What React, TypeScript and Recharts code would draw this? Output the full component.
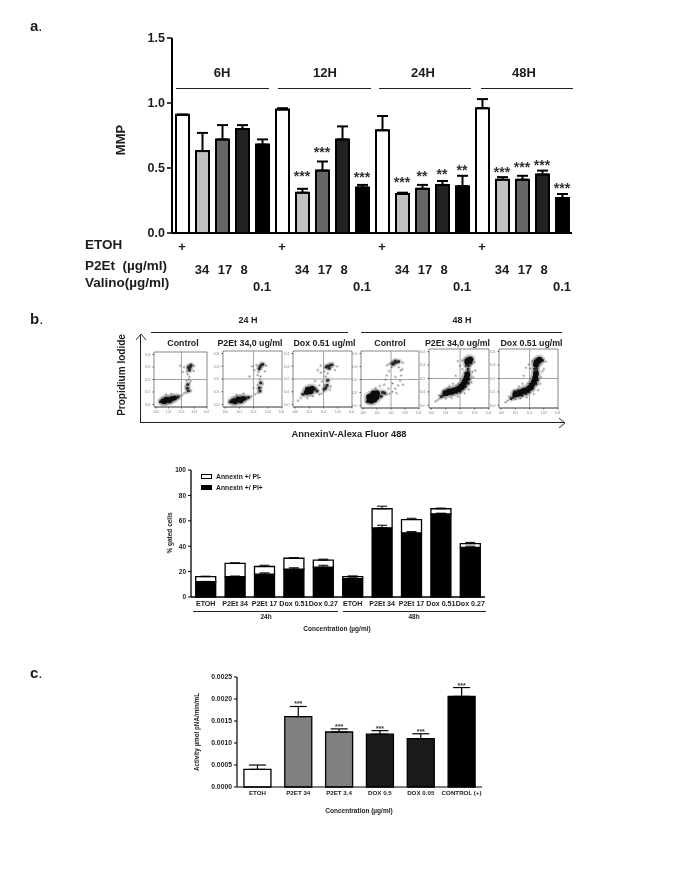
import {
  Bar,
  BarChart,
  CartesianGrid,
  Cell,
  ComposedChart,
  ErrorBar,
  LabelList,
  Line,
  ReferenceLine,
  Scatter,
  ScatterChart,
  XAxis,
  YAxis,
} from 'recharts';

const FONT = '"Liberation Sans", Arial, sans-serif';
const INK = '#1c1c1c';

// panel a
const mmpValues = [0.91, 0.63, 0.72, 0.8, 0.68, 0.95, 0.31, 0.48, 0.72, 0.35, 0.79, 0.3, 0.34, 0.37, 0.36, 0.96, 0.41, 0.41, 0.45, 0.27];
const mmpErrors = [0, 0.14, 0.11, 0.03, 0.04, 0.01, 0.03, 0.07, 0.1, 0.02, 0.11, 0.01, 0.03, 0.03, 0.08, 0.07, 0.02, 0.03, 0.03, 0.03];
const mmpStars = ['', '', '', '', '', '', '***', '***', '', '***', '', '***', '**', '**', '**', '', '***', '***', '***', '***'];
const mmpStarLevels = [null, null, null, null, null, null, 0.44, 0.62, null, 0.43, null, 0.39, 0.44, 0.45, 0.485, null, 0.47, 0.505, 0.52, 0.345];
const mmpFills = ['#ffffff', '#c0c0c0', '#666666', '#222222', '#000000'];
const etohRow = ['+', '', '', '', ''];
const p2etRow = ['', '34', '17', '8', ''];
const valinoRow = ['', '', '', '', '0.1'];
const mmpTicks = [0, 0.5, 1, 1.5];
const hourGroups = ['6H', '12H', '24H', '48H'];

// panel b, bars
const gatedNames = ['ETOH', 'P2Et 34', 'P2Et 17', 'Dox 0.51', 'Dox 0.27', 'ETOH', 'P2Et 34', 'P2Et 17', 'Dox 0.51', 'Dox 0.27'];
const gatedPlus = [12, 16, 18, 22, 23.5, 14.5, 54.5, 50.5, 65.5, 39];
const gatedPlusErr = [0.3, 0.5, 1, 1, 1.5, 0.5, 2, 1, 0.5, 1];
const gatedMinus = [4, 10.5, 6, 8.5, 5.5, 1.5, 15, 10.5, 4, 3];
const gatedMinusErr = [0.4, 0.4, 1, 0.5, 0.8, 0.6, 2, 1, 0.5, 1];

// panel c
const caspNames = ['ETOH', 'P2ET 34', 'P2ET 3.4', 'DOX 0.5', 'DOX 0.05', 'CONTROL (+)'];
const caspValues = [0.0004, 0.0016, 0.00125, 0.0012, 0.0011, 0.00206];
const caspErrors = [0.0001, 0.00023, 0.00007, 0.00008, 0.00011, 0.0002];
const caspStars = ['', '***', '***', '***', '***', '***'];
const caspFills = ['#ffffff', '#808080', '#808080', '#1a1a1a', '#1a1a1a', '#000000'];

// panel b, dot plots: [annexin decade, PI decade]
type Pt = [number, number];
const ctrl24Core: Pt[] = [[0.55, 0.28], [0.7, 0.3], [0.85, 0.34], [1, 0.38], [1.15, 0.42], [1.3, 0.48], [1.45, 0.52], [0.8, 0.42], [1.05, 0.3], [0.65, 0.22]];
const ctrl24Mid: Pt[] = [[0.35, 0.22], [1.65, 0.58], [1.75, 0.62], [2.6, 2.9], [2.7, 3.05], [2.55, 3], [2.75, 3.15], [2.62, 2.75], [2.45, 1.3], [2.5, 1.6], [2.55, 1.1]];
const ctrl24Sparse: Pt[] = [[2.2, 0.9], [2.35, 0.95], [2.45, 1.05], [2.6, 1.35], [2.35, 1.45], [2.65, 1.75], [2.4, 1.9], [2.55, 2], [2.62, 2.2], [2.5, 2.4], [2.42, 2.6], [2.1, 2.6], [2.2, 3], [1.9, 3.1], [3, 3.1], [2.95, 2.7], [1.9, 0.7], [2.05, 0.75], [2.75, 1.1], [2.72, 1.9], [1.2, 0.85], [0.8, 0.8]];

const p2e24Core: Pt[] = [[0.55, 0.28], [0.7, 0.3], [0.85, 0.34], [1, 0.38], [1.15, 0.42], [1.3, 0.46], [0.9, 0.42], [1.1, 0.3], [0.7, 0.22]];
const p2e24Mid: Pt[] = [[0.35, 0.2], [1.5, 0.5], [1.65, 0.56], [2.45, 2.95], [2.55, 3.1], [2.4, 2.8], [2.65, 3.15], [2.4, 1.3], [2.45, 1.05], [2.5, 1.7]];
const p2e24Sparse: Pt[] = [[2.1, 0.8], [2.3, 0.9], [2.4, 1.1], [2.55, 1.35], [2.3, 1.55], [2.45, 2], [2.5, 2.2], [2.3, 2.3], [2.35, 2.55], [2.05, 2.7], [1.9, 3], [2.2, 3.1], [2.8, 2.6], [2.9, 3.05], [1.85, 0.65], [2, 1.3], [1.3, 0.85], [0.8, 0.75], [2.65, 1.6], [1.7, 2.2]];

const dox24Core: Pt[] = [[0.8, 0.95], [0.9, 1.02], [1, 1.1], [1.1, 1.18], [1.2, 1.25], [0.88, 1.18], [1.1, 1.02]];
const dox24Mid: Pt[] = [[2.2, 2.95], [2.3, 3], [2.45, 3.08], [2.6, 3.12], [2.4, 2.85], [1.4, 1.2], [0.55, 0.8], [1.55, 1.05], [2.15, 1.3], [2.25, 1.5], [2.05, 1.2], [2.3, 1.9]];
const dox24Sparse: Pt[] = [[0.2, 0.3], [0.4, 0.5], [1.7, 0.8], [1.85, 0.85], [2, 1], [2.05, 1.55], [1.9, 1.8], [2.2, 1.85], [2.15, 2.2], [2.3, 2.45], [2.05, 2.6], [1.8, 2.5], [1.6, 2.7], [1.8, 3.05], [2.1, 2.9], [2.95, 3], [2.8, 2.7], [2.5, 1.4], [2.45, 1.15], [1.25, 0.65], [0.85, 0.5], [1.7, 1.5], [1.4, 1.85]];

const ctrl48Core: Pt[] = [[0.5, 0.45], [0.62, 0.55], [0.75, 0.68], [0.88, 0.82], [0.98, 0.92], [0.58, 0.38], [0.8, 0.48], [0.45, 0.66], [0.75, 0.9], [0.95, 0.66]];
const ctrl48Mid: Pt[] = [[2.1, 3.25], [2.25, 3.3], [2.4, 3.35], [2.55, 3.38], [2.3, 3.42], [2.15, 3.18], [1.4, 1], [1.55, 0.95], [0.3, 0.3], [1.3, 0.7]];
const ctrl48Sparse: Pt[] = [[1.7, 0.85], [1.9, 0.9], [2.1, 1.05], [2.3, 1.3], [2.5, 1.55], [2.65, 1.9], [2.72, 2.3], [2.7, 2.7], [2.55, 2.95], [2.05, 2.95], [1.85, 2.65], [1.7, 2.3], [1.6, 2], [1.5, 1.6], [1.85, 3.2], [2.85, 3.3], [2.8, 2.8], [2.85, 1.6], [1.8, 1.3], [2.1, 1.7], [2.3, 2.2], [1.2, 1.5], [0.9, 1.35], [2.4, 0.95], [1.7, 3.1]];

const p2e48Core: Pt[] = [[1, 0.9], [1.15, 0.98], [1.3, 1.02], [1.45, 1.05], [1.6, 1.1], [1.8, 1.18], [1.95, 1.28], [2.1, 1.42], [2.25, 1.6], [2.35, 1.82], [2.45, 2.05], [2.5, 2.3], [2.5, 3.25], [2.6, 3.35], [2.7, 3.42]];
const p2e48Mid: Pt[] = [[0.7, 0.65], [0.85, 0.75], [0.9, 1], [1.2, 1.15], [1.45, 0.88], [1.75, 0.98], [2, 1.05], [2.2, 1.25], [2.35, 1.4], [2.55, 1.65], [2.6, 1.95], [2.55, 2.5], [2.55, 2.7], [2.6, 2.95], [2.45, 3], [2.75, 3.15], [2.42, 3.4], [2.8, 3.4]];
const p2e48Sparse: Pt[] = [[0.3, 0.3], [0.45, 0.4], [0.6, 0.5], [0.55, 0.75], [1, 0.5], [1.4, 0.55], [1.85, 0.65], [2.3, 0.9], [2.6, 1.2], [2.8, 1.7], [2.9, 2.1], [2.3, 2.45], [2.15, 2.7], [2, 2.95], [1.85, 3.3], [2.15, 3.35], [1.7, 2.2], [1.5, 1.6], [1.25, 1.45], [3, 3.2], [3.05, 2.6], [2.05, 1.9], [1.9, 1.6], [2.35, 2.9], [2.85, 2.5]];

const dox48Core: Pt[] = [[1, 0.8], [1.15, 0.85], [1.3, 0.92], [1.45, 1], [1.6, 1.08], [1.8, 1.15], [2, 1.3], [2.15, 1.5], [2.3, 1.75], [2.4, 2.05], [2.45, 2.35], [2.5, 3.2], [2.6, 3.3], [2.7, 3.4], [2.45, 3.05]];
const dox48Mid: Pt[] = [[0.7, 0.5], [0.85, 0.6], [0.95, 1], [1.2, 1.08], [1.45, 0.75], [1.75, 0.88], [1.95, 1.02], [2.2, 1.25], [2.45, 1.6], [2.55, 1.9], [2.5, 2.55], [2.5, 2.75], [2.35, 2.7], [2.5, 2.95], [2.9, 3.35], [2.4, 3.3]];
const dox48Sparse: Pt[] = [[0.3, 0.22], [0.45, 0.35], [0.55, 0.65], [1, 0.45], [1.35, 0.5], [1.8, 0.6], [2.3, 0.85], [2.6, 1.15], [2.75, 1.6], [2.8, 2.1], [2.25, 2.5], [2.05, 2.75], [1.95, 3.05], [2.2, 3.3], [1.75, 2.8], [1.6, 2.2], [1.5, 1.6], [1.25, 1.4], [3.15, 3.25], [3, 2.7], [2.05, 2], [1.9, 1.65], [2.3, 3], [2.9, 2.55]];

const dotPlots = [
  { title: 'Control', titleX: 183, left: 154, right: 207, top: 352, bottom: 407, coreR: 2.5, core: ctrl24Core, mid: ctrl24Mid, sparse: ctrl24Sparse },
  { title: 'P2Et 34,0 ug/ml', titleX: 250, left: 223, right: 282, top: 351, bottom: 407, coreR: 2.5, core: p2e24Core, mid: p2e24Mid, sparse: p2e24Sparse },
  { title: 'Dox 0.51 ug/ml', titleX: 324.5, left: 293, right: 352, top: 351, bottom: 407, coreR: 2.7, core: dox24Core, mid: dox24Mid, sparse: dox24Sparse },
  { title: 'Control', titleX: 390, left: 361, right: 419, top: 351, bottom: 408, coreR: 3.2, core: ctrl48Core, mid: ctrl48Mid, sparse: ctrl48Sparse },
  { title: 'P2Et 34,0 ug/ml', titleX: 457.5, left: 429, right: 489, top: 349, bottom: 408, coreR: 3, core: p2e48Core, mid: p2e48Mid, sparse: p2e48Sparse },
  { title: 'Dox 0.51 ug/ml', titleX: 531.5, left: 499, right: 558, top: 349, bottom: 408, coreR: 3, core: dox48Core, mid: dox48Mid, sparse: dox48Sparse },
];
const decadeTicks = [0, 1, 2, 3, 4];

const mmpData = mmpValues.map((v, i) => ({
  name: String(i),
  value: v,
  err: [0, mmpErrors[i]],
  starLevel: mmpStarLevels[i],
  stars: mmpStars[i],
}));
const gatedData = gatedNames.map((n, i) => ({
  name: n,
  plus: gatedPlus[i],
  plusErr: [0, gatedPlusErr[i]],
  minus: gatedMinus[i],
  minusErr: [0, gatedMinusErr[i]],
}));
const caspData = caspNames.map((n, i) => ({
  name: n,
  value: caspValues[i],
  err: [0, caspErrors[i]],
  top: caspValues[i] + caspErrors[i],
  stars: caspStars[i],
}));

function Note({ x, y, size = 12, rotate, anchor = 'middle', weight = 700, children }: any) {
  const shift = anchor === 'middle' ? '-50%' : '0';
  return (
    <div
      style={{
        position: 'absolute',
        left: x,
        top: y,
        transform: `translate(${shift}, -50%)${rotate ? ` rotate(${rotate}deg)` : ''}`,
        fontFamily: FONT,
        fontSize: size,
        fontWeight: weight,
        color: INK,
        whiteSpace: 'nowrap',
        lineHeight: 1,
      }}
    >
      {children}
    </div>
  );
}

function Rule({ x1, x2, y, thick = 1 }: any) {
  return <div style={{ position: 'absolute', left: x1, width: x2 - x1, top: y, height: thick, background: '#222' }} />;
}

function MmpTick({ x, y, payload }: any) {
  const slot = Number(payload.value) % 5;
  const style = { fontFamily: FONT, fontSize: 13, fontWeight: 700, fill: INK };
  return (
    <g>
      <text x={x} y={y + 10} textAnchor="middle" {...style}>{etohRow[slot]}</text>
      <text x={x + (slot === 2 ? 3 : slot === 3 ? 2 : 0)} y={y + 33} textAnchor="middle" {...style}>{p2etRow[slot]}</text>
      <text x={x} y={y + 50} textAnchor="middle" {...style}>{valinoRow[slot]}</text>
    </g>
  );
}

function MmpChart() {
  return (
    <div style={{ position: 'absolute', left: 100, top: 20 }}>
      <ComposedChart width={472} height={280} data={mmpData} margin={{ top: 18, right: 0, bottom: 0, left: 0 }} barCategoryGap={0}>
        <XAxis dataKey="name" height={67} interval={0} tick={<MmpTick />} tickLine={false} axisLine={{ stroke: '#000', strokeWidth: 2 }} />
        <YAxis
          width={72}
          domain={[0, 1.5]}
          ticks={mmpTicks}
          tickFormatter={(v) => v.toFixed(1)}
          tick={{ fontFamily: FONT, fontSize: 12.5, fontWeight: 700, fill: INK }}
          tickLine={{ stroke: '#000', strokeWidth: 1.5 }}
          tickSize={5}
          axisLine={{ stroke: '#000', strokeWidth: 2 }}
        />
        <Bar dataKey="value" barSize={13} stroke="#000" strokeWidth={2} isAnimationActive={false}>
          {mmpData.map((_, i) => (
            <Cell key={i} fill={mmpFills[i % 5]} />
          ))}
          <ErrorBar dataKey="err" direction="y" width={5.5} stroke="#000" strokeWidth={2} isAnimationActive={false} />
        </Bar>
        <Line dataKey="starLevel" stroke="none" dot={false} legendType="none" connectNulls={false} isAnimationActive={false}>
          <LabelList dataKey="stars" position="center" style={{ fontFamily: FONT, fontSize: 14, fontWeight: 700, fill: '#333' }} />
        </Line>
      </ComposedChart>
    </div>
  );
}

function DotPlot({ plot }: any) {
  const w = plot.right - plot.left;
  const h = plot.bottom - plot.top;
  const toPts = (list: Pt[]) => list.map(([x, y]) => ({ x, y }));
  const dot = (r: number, fill: string, opacity = 1) => (p: any) => <circle cx={p.cx} cy={p.cy} r={r} fill={fill} opacity={opacity} />;
  const tick = { fontSize: 3.5, fontFamily: FONT, fill: '#8a8a8a' };
  return (
    <div style={{ position: 'absolute', left: plot.left - 10, top: plot.top - 2, filter: 'blur(0.3px)' }}>
      <ScatterChart width={w + 12} height={h + 12} margin={{ top: 2, right: 2, bottom: 0, left: 0 }}>
        <CartesianGrid stroke="#555" strokeWidth={0.7} horizontalValues={[-0.2, 4.2]} verticalValues={[-0.15, 4]} />
        <XAxis type="number" dataKey="x" domain={[-0.15, 4]} ticks={decadeTicks} height={10} tickSize={1.5} tick={tick} tickFormatter={(v) => `10${v}`} tickLine={{ stroke: '#555' }} axisLine={{ stroke: '#555', strokeWidth: 0.7 }} />
        <YAxis type="number" dataKey="y" domain={[-0.2, 4.2]} ticks={decadeTicks} width={10} tickSize={1.5} tick={tick} tickFormatter={(v) => `10${v}`} tickLine={{ stroke: '#555' }} axisLine={{ stroke: '#555', strokeWidth: 0.7 }} />
        <ReferenceLine x={2} stroke="#999" strokeWidth={0.9} />
        <ReferenceLine y={2} stroke="#999" strokeWidth={0.9} />
        <Scatter data={toPts(plot.core)} shape={dot(plot.coreR + 2.5, '#777', 0.3)} isAnimationActive={false} />
        <Scatter data={toPts(plot.mid)} shape={dot(3.2, '#777', 0.3)} isAnimationActive={false} />
        <Scatter data={toPts(plot.sparse)} shape={dot(1.6, '#999', 0.35)} isAnimationActive={false} />
        <Scatter data={toPts(plot.sparse)} shape={dot(0.5, '#444')} isAnimationActive={false} />
        <Scatter data={toPts(plot.mid)} shape={dot(1.6, '#2a2a2a')} isAnimationActive={false} />
        <Scatter data={toPts(plot.core)} shape={dot(plot.coreR, '#0c0c0c')} isAnimationActive={false} />
      </ScatterChart>
    </div>
  );
}

function GatedLegend() {
  const rows = [
    { label: 'Annexin +/ PI-', fill: '#fff' },
    { label: 'Annexin +/ PI+', fill: '#000' },
  ];
  return (
    <div style={{ position: 'absolute', left: 201, top: 471 }}>
      {rows.map((r) => (
        <div key={r.label} style={{ display: 'flex', alignItems: 'center', height: 11, fontFamily: FONT, fontSize: 6.8, fontWeight: 700, color: INK }}>
          <span style={{ width: 9, height: 3, border: '1.5px solid #000', background: r.fill, marginRight: 4 }} />
          {r.label}
        </div>
      ))}
    </div>
  );
}

function GatedChart() {
  return (
    <div style={{ position: 'absolute', left: 150, top: 462 }}>
      <BarChart width={335} height={147} data={gatedData} margin={{ top: 8, right: 0, bottom: 0, left: 0 }} barCategoryGap="16%">
        <XAxis dataKey="name" height={12} interval={0} tick={{ fontFamily: FONT, fontSize: 7.1, fontWeight: 700, fill: INK }} tickSize={2} tickLine={false} axisLine={{ stroke: '#000', strokeWidth: 1.3 }} />
        <YAxis
          width={41}
          domain={[0, 100]}
          ticks={[0, 20, 40, 60, 80, 100]}
          tick={{ fontFamily: FONT, fontSize: 6.5, fontWeight: 700, fill: INK }}
          tickSize={3}
          tickLine={{ stroke: '#000' }}
          axisLine={{ stroke: '#000', strokeWidth: 1.3 }}
        />
        <Bar dataKey="plus" stackId="a" fill="#000" stroke="#000" strokeWidth={1.3} isAnimationActive={false}>
          <ErrorBar dataKey="plusErr" direction="y" width={5} stroke="#000" strokeWidth={1} isAnimationActive={false} />
        </Bar>
        <Bar dataKey="minus" stackId="a" fill="#fff" stroke="#000" strokeWidth={1.3} isAnimationActive={false}>
          <ErrorBar dataKey="minusErr" direction="y" width={5} stroke="#000" strokeWidth={1} isAnimationActive={false} />
        </Bar>
      </BarChart>
    </div>
  );
}

function CaspChart() {
  return (
    <div style={{ position: 'absolute', left: 192, top: 670 }}>
      <ComposedChart
        width={300}
        height={130}
        data={caspData}
        margin={{ top: 7, right: 10, bottom: 0, left: 0 }}
        barCategoryGap="17%"
        style={{ overflow: 'visible' }}
      >
        <XAxis dataKey="name" height={13} interval={0} tick={{ fontFamily: FONT, fontSize: 6.2, fontWeight: 700, fill: INK }} tickSize={2} tickLine={false} axisLine={{ stroke: '#000', strokeWidth: 1.2 }} />
        <YAxis
          width={45}
          domain={[0, 0.0025]}
          ticks={[0, 0.0005, 0.001, 0.0015, 0.002, 0.0025]}
          tickFormatter={(v) => v.toFixed(4)}
          tick={{ fontFamily: FONT, fontSize: 6.8, fontWeight: 700, fill: INK }}
          tickSize={3}
          tickLine={{ stroke: '#000' }}
          axisLine={{ stroke: '#000', strokeWidth: 1.2 }}
        />
        <Bar dataKey="value" stroke="#000" strokeWidth={1.3} isAnimationActive={false}>
          {caspData.map((_, i) => (
            <Cell key={i} fill={caspFills[i]} />
          ))}
          <ErrorBar dataKey="err" direction="y" width={8.5} stroke="#000" strokeWidth={1.2} isAnimationActive={false} />
        </Bar>
        <Line dataKey="top" stroke="none" dot={false} legendType="none" isAnimationActive={false}>
          <LabelList dataKey="stars" position="top" offset={0} style={{ fontFamily: FONT, fontSize: 7, fontWeight: 700, fill: '#333' }} />
        </Line>
      </ComposedChart>
    </div>
  );
}

function Arrow({ x, y, dir }: any) {
  const d = dir === 'up' ? 'M-5 6 L0 0 L5 6' : 'M-6 -5 L0 0 L-6 5';
  return (
    <svg style={{ position: 'absolute', left: x - 8, top: y - 8, overflow: 'visible' }} width={16} height={16}>
      <path d={d} transform="translate(8 8)" fill="none" stroke="#333" strokeWidth={1} />
    </svg>
  );
}

export default function App() {
  const hourLines = [[176, 269], [278, 371], [379, 471], [481, 573]];
  const hourCenters = [222, 325, 423, 524];
  return (
    <div style={{ position: 'absolute', left: 0, top: 0, width: 685, height: 872, background: '#fff', overflow: 'hidden', filter: 'blur(0.4px)' }}>
      <Note x={30} y={25} size={15} anchor="start">a<span style={{ fontWeight: 400 }}>.</span></Note>
      <Note x={30} y={318} size={15} anchor="start">b<span style={{ fontWeight: 400 }}>.</span></Note>
      <Note x={30} y={672} size={15} anchor="start">c<span style={{ fontWeight: 400 }}>.</span></Note>

      <MmpChart />
      <Note x={120} y={140} size={13} rotate={-90}>MMP</Note>
      {hourGroups.map((g, i) => (
        <Note key={g} x={hourCenters[i]} y={72} size={13}>{g}</Note>
      ))}
      {hourLines.map(([a, b]) => (
        <Rule key={a} x1={a} x2={b} y={88} thick={1.4} />
      ))}
      <Note x={85} y={245} size={13.5} anchor="start">ETOH</Note>
      <Note x={85} y={266} size={13.5} anchor="start">P2Et&nbsp; (µg/ml)</Note>
      <Note x={85} y={283} size={13.5} anchor="start">Valino(µg/ml)</Note>

      <Note x={248} y={320} size={9}>24 H</Note>
      <Note x={462} y={320} size={9}>48 H</Note>
      <Rule x1={151} x2={348} y={332} />
      <Rule x1={361} x2={562} y={332} />
      {dotPlots.map((p, i) => (
        <div key={i}>
          <Note x={p.titleX} y={343} size={8.8}>{p.title}</Note>
          <DotPlot plot={p} />
        </div>
      ))}
      <Rule x1={140} x2={565} y={422} />
      <div style={{ position: 'absolute', left: 140, top: 334, width: 1, height: 88, background: '#222' }} />
      <Arrow x={140.5} y={334} dir="up" />
      <Arrow x={565} y={422.5} dir="right" />
      <Note x={122} y={375} size={10} rotate={-90}>Propidium Iodide</Note>
      <Note x={349} y={434} size={9.4}>AnnexinV-Alexa Fluor 488</Note>

      <GatedChart />
      <GatedLegend />
      <Rule x1={193} x2={338} y={611} />
      <Rule x1={343} x2={486} y={611} />
      <Note x={266} y={617} size={6.5}>24h</Note>
      <Note x={414} y={617} size={6.5}>48h</Note>
      <Note x={337} y={629} size={6.5}>Concentration (µg/ml)</Note>
      <Note x={170} y={533} size={6.5} rotate={-90}>% gated cells</Note>

      <CaspChart />
      <Note x={197} y={732} size={6.3} rotate={-90}>Activity µmol pNA/min/mL</Note>
      <Note x={359} y={811} size={6.5}>Concentration (µg/ml)</Note>
    </div>
  );
}
